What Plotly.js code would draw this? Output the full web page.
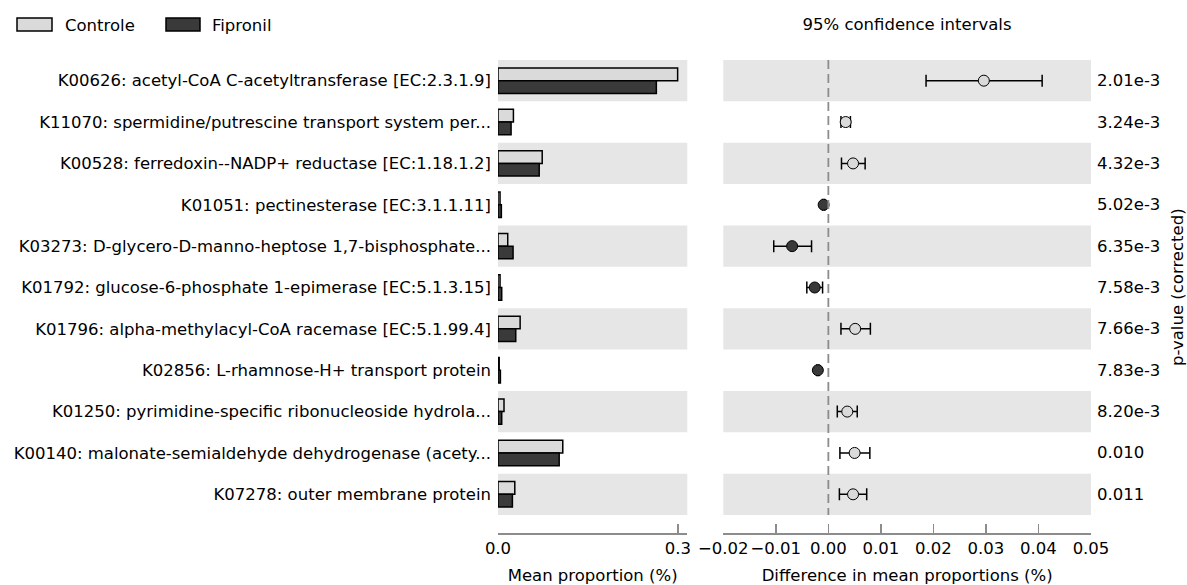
<!DOCTYPE html>
<html>
<head>
<meta charset="utf-8">
<script src="https://cdn.plot.ly/plotly-3.0.1.min.js"></script>
<style>html,body{margin:0;padding:0;background:#fff;}#chart{width:1187px;height:585px;}</style>
</head>
<body>
<div id="chart"></div>
<script>
const categories = [
  "K00626: acetyl-CoA C-acetyltransferase [EC:2.3.1.9]",
  "K11070: spermidine/putrescine transport system per...",
  "K00528: ferredoxin--NADP+ reductase [EC:1.18.1.2]",
  "K01051: pectinesterase [EC:3.1.1.11]",
  "K03273: D-glycero-D-manno-heptose 1,7-bisphosphate...",
  "K01792: glucose-6-phosphate 1-epimerase [EC:5.1.3.15]",
  "K01796: alpha-methylacyl-CoA racemase [EC:5.1.99.4]",
  "K02856: L-rhamnose-H+ transport protein",
  "K01250: pyrimidine-specific ribonucleoside hydrola...",
  "K00140: malonate-semialdehyde dehydrogenase (acety...",
  "K07278: outer membrane protein"
];
const controle = [0.2995, 0.0257, 0.0737, 0.0034, 0.0162, 0.0034, 0.0369, 0.0020, 0.0100, 0.1080, 0.0280];
const fipronil = [0.2640, 0.0218, 0.0687, 0.0056, 0.0251, 0.0062, 0.0296, 0.0040, 0.0062, 0.1020, 0.0240];
const diff   = [0.0296, 0.0033, 0.0047, -0.0009, -0.0069, -0.0026, 0.0051, -0.0020, 0.0036, 0.0050, 0.0047];
const ciLow  = [0.0186, 0.0024, 0.0025, -0.0011, -0.0104, -0.0041, 0.0024, -0.0022, 0.0017, 0.0022, 0.0021];
const ciHigh = [0.0407, 0.0042, 0.0070, -0.0007, -0.0032, -0.0011, 0.0080, -0.0018, 0.0055, 0.0079, 0.0073];
const pValues = ["2.01e-3", "3.24e-3", "4.32e-3", "5.02e-3", "6.35e-3", "7.58e-3", "7.66e-3", "7.83e-3", "8.20e-3", "0.010", "0.011"];
const groupNames = ["Controle", "Fipronil"];
const leftTicks = [0, 0.3];
const leftTickText = ["0.0", "0.3"];

const LIGHT = "#dadada", DARK = "#3a3a3a", BAND = "#e6e6e6", AXIS = "#8c8c8c";
const FONT = "DejaVu Sans", FS = 16.5;
const W = 1187, H = 585, ML = 498, MR = 96, MT = 60, MB = 52;
const PW = W - ML - MR, PH = H - MT - MB;
const px = v => (v - ML) / PW;
const py = v => (H - MB - v) / PH;
const f = () => ({family: FONT, size: FS, color: "#000"});

const traces = [
  {type: "bar", orientation: "h", name: groupNames[0], y: categories, x: controle,
   marker: {color: LIGHT, line: {color: "#000", width: 1.5}}, xaxis: "x", yaxis: "y", hoverinfo: "x+y"},
  {type: "bar", orientation: "h", name: groupNames[1], y: categories, x: fipronil,
   marker: {color: DARK, line: {color: "#000", width: 1.5}}, xaxis: "x", yaxis: "y", hoverinfo: "x+y"},
  {type: "scatter", mode: "markers", name: "difference", y: categories, x: diff,
   xaxis: "x2", yaxis: "y", showlegend: false,
   error_x: {type: "data", symmetric: false,
     array: diff.map((d, i) => ciHigh[i] - d),
     arrayminus: diff.map((d, i) => d - ciLow[i]),
     color: "#000", thickness: 1.5, width: 6},
   marker: {size: 11, color: diff.map(d => d >= 0 ? LIGHT : DARK), line: {color: "#000", width: 1}}}
];

const shapes = [];
categories.forEach((c, i) => {
  if (i % 2 === 0) {
    ["x domain", "x2 domain"].forEach(xr => shapes.push({type: "rect", layer: "below", xref: xr, yref: "y",
      x0: 0, x1: 1, y0: i - 0.5, y1: i + 0.5, fillcolor: BAND, line: {width: 0}}));
  }
});
shapes.push({type: "line", xref: "x2", yref: "y", x0: 0, x1: 0, y0: -0.5, y1: categories.length - 0.5,
  line: {color: AXIS, width: 1.8, dash: "9px,5px"}, layer: "above"});
// manual legend swatches
shapes.push({type: "rect", xref: "paper", yref: "paper", x0: px(17), x1: px(52), y0: py(31), y1: py(18),
  fillcolor: LIGHT, line: {color: "#000", width: 1.5}});
shapes.push({type: "rect", xref: "paper", yref: "paper", x0: px(166), x1: px(200), y0: py(31), y1: py(18),
  fillcolor: DARK, line: {color: "#000", width: 1.5}});

const annotations = pValues.map((p, i) => ({
  text: p, xref: "paper", yref: "y", x: px(1095), y: categories[i], xanchor: "left", yanchor: "middle",
  showarrow: false, font: f()
}));
annotations.push({text: "p-value (corrected)", textangle: -90, xref: "paper", yref: "paper",
  x: px(1177), y: py(287), xanchor: "center", yanchor: "middle", showarrow: false, font: f()});
annotations.push({text: groupNames[0], xref: "paper", yref: "paper", x: px(63), y: py(25),
  xanchor: "left", yanchor: "middle", showarrow: false, font: f()});
annotations.push({text: groupNames[1], xref: "paper", yref: "paper", x: px(210), y: py(25),
  xanchor: "left", yanchor: "middle", showarrow: false, font: f()});

const axisCommon = {showgrid: false, zeroline: false, showline: true, linecolor: AXIS, linewidth: 1.5,
  ticks: "inside", ticklen: 9, tickwidth: 1.5, tickcolor: AXIS, anchor: "y", tickangle: 0,
  tickfont: f(), fixedrange: true};

const layout = {
  width: W, height: H,
  margin: {l: ML, r: MR, t: MT, b: MB},
  paper_bgcolor: "#fff", plot_bgcolor: "#fff",
  font: f(),
  showlegend: false,
  barmode: "group", bargap: 0.386, bargroupgap: 0,
  title: {text: "95% confidence intervals", xref: "paper", x: px(907), xanchor: "center",
    yref: "container", y: 1 - 24 / H, yanchor: "middle", font: f()},
  xaxis: Object.assign({}, axisCommon, {domain: [0, px(687.3)], range: [0, 0.3156],
    tickmode: "array", tickvals: leftTicks, ticktext: leftTickText,
    title: {text: "Mean proportion (%)", standoff: 14, font: f()}}),
  xaxis2: Object.assign({}, axisCommon, {domain: [px(723.3), 1], range: [-0.02, 0.05],
    dtick: 0.01, tick0: 0, tickformat: ".2f",
    title: {text: "Difference in mean proportions (%)", standoff: 14, font: f()}}),
  yaxis: {type: "category", range: [categories.length - 0.5 + 18 / 41.36, -0.5], showgrid: false,
    zeroline: false, showline: false, ticks: "", ticklabelstandoff: 6,
    tickfont: f(), fixedrange: true, automargin: false},
  shapes: shapes,
  annotations: annotations
};

Plotly.newPlot("chart", traces, layout, {displayModeBar: false, staticPlot: true});
</script>
</body>
</html>
